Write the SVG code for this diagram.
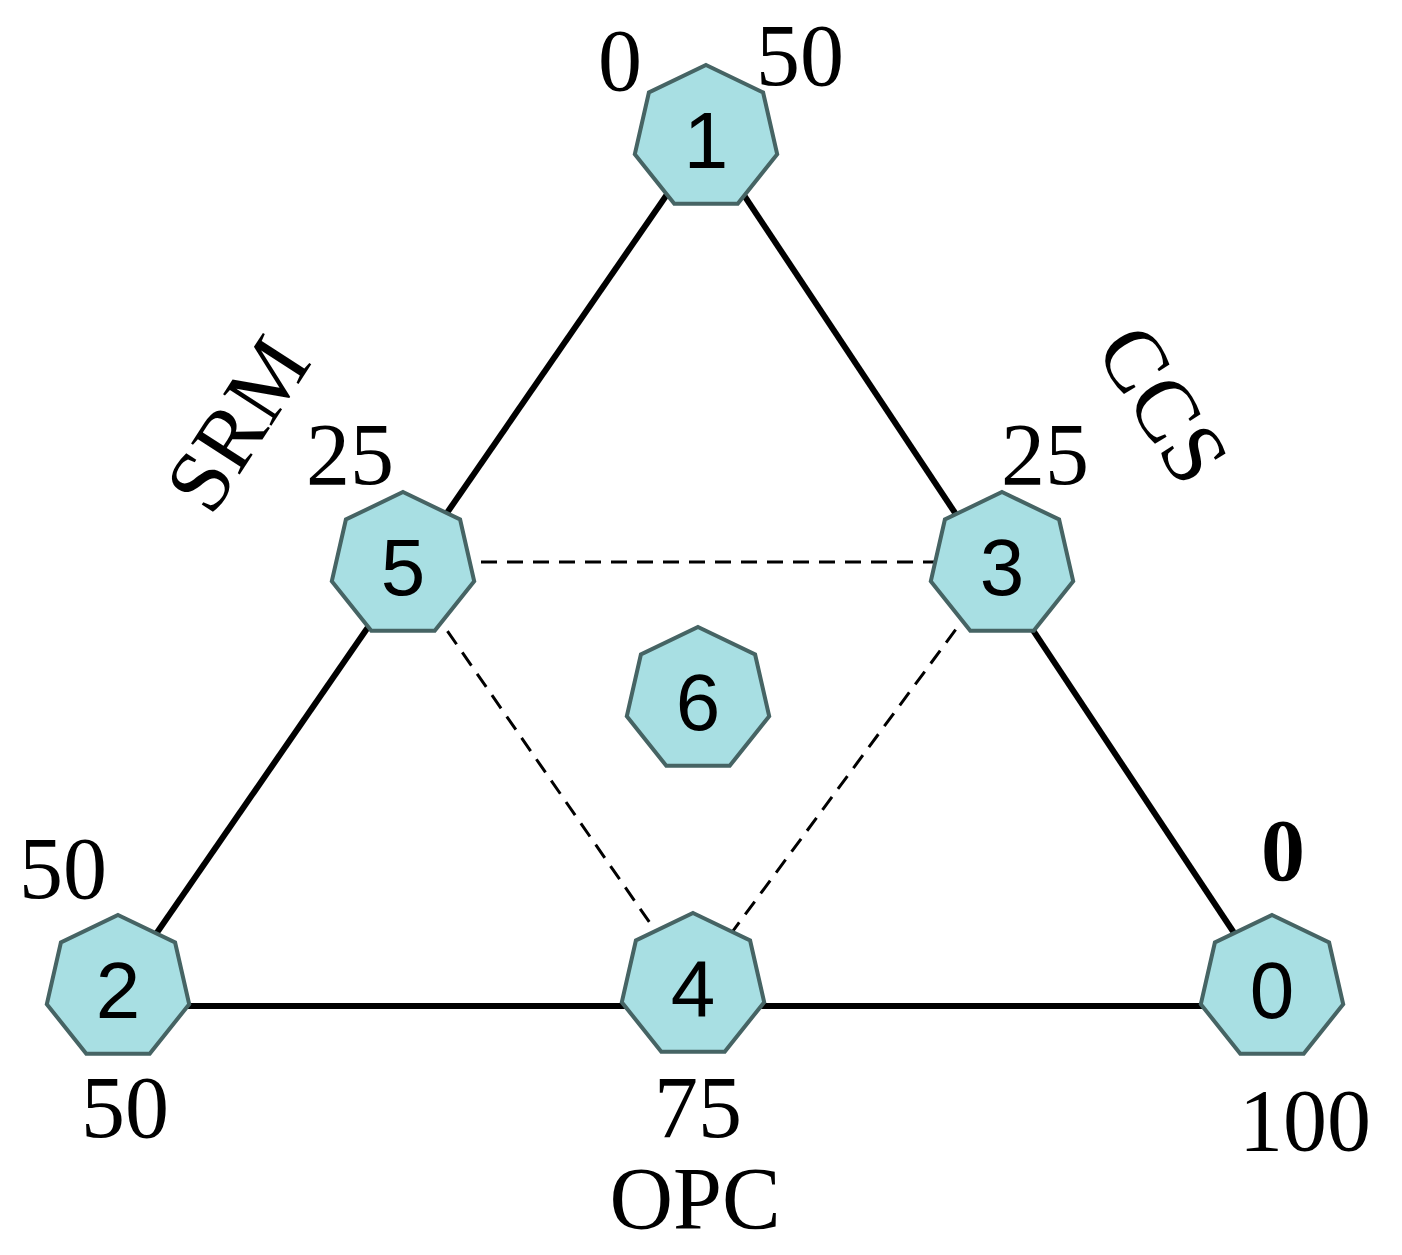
<svg xmlns="http://www.w3.org/2000/svg" width="1402" height="1255" viewBox="0 0 1402 1255">
<defs>
<style>
.n{fill:#a8dfe3;stroke:#466464;stroke-width:4}
.t{font-family:"Liberation Sans",Arial,sans-serif;font-size:80px;text-anchor:middle;fill:#000}
.l{font-family:"Liberation Serif","Times New Roman",serif;font-size:88px;text-anchor:middle;fill:#000}
.s{stroke:#000;stroke-width:6;fill:none}
.d{stroke:#000;stroke-width:3;stroke-dasharray:16 10;fill:none}
</style>
<polygon id="hep" points="0,-73 57.1,-45.5 71.2,16.2 31.7,65.8 -31.7,65.8 -71.2,16.2 -57.1,-45.5"/>
</defs>
<rect width="1402" height="1255" fill="#fff"/>
<g id="connectors">
<line class="s" x1="706" y1="138" x2="118" y2="989"/>
<line class="s" x1="706" y1="138" x2="1272" y2="990"/>
<line class="s" x1="118" y1="1006" x2="1272" y2="1006"/>
<line class="d" x1="403" y1="562" x2="1002" y2="562"/>
<line class="d" x1="403" y1="567" x2="693" y2="985"/>
<line class="d" x1="1002" y1="567" x2="693" y2="985"/>
</g>
<g id="node1"><use href="#hep" class="n" x="706" y="138"/><text class="t" x="706" y="168">1</text></g>
<g id="node5"><use href="#hep" class="n" x="403" y="565"/><text class="t" x="403" y="595">5</text></g>
<g id="node3"><use href="#hep" class="n" x="1002" y="565"/><text class="t" x="1002" y="595">3</text></g>
<g id="node6"><use href="#hep" class="n" x="698" y="700"/><text class="t" x="698" y="730">6</text></g>
<g id="node2"><use href="#hep" class="n" x="118" y="988"/><text class="t" x="118" y="1018">2</text></g>
<g id="node4"><use href="#hep" class="n" x="693" y="986"/><text class="t" x="693" y="1016">4</text></g>
<g id="node0"><use href="#hep" class="n" x="1272" y="988"/><text class="t" x="1272" y="1018">0</text></g>
<g id="labels">
<text class="l" x="620" y="90">0</text>
<text class="l" x="800" y="85">50</text>
<text class="l" x="350" y="484">25</text>
<text class="l" x="1045" y="484">25</text>
<text class="l" x="63" y="898">50</text>
<text class="l" x="1283" y="880" font-weight="bold">0</text>
<text class="l" x="125" y="1137">50</text>
<text class="l" x="698" y="1137">75</text>
<text class="l" x="1305" y="1150">100</text>
<text class="l" x="695" y="1228">OPC</text>
<text class="l" transform="translate(262,440) rotate(-57)">SRM</text>
<text class="l" transform="translate(1138,420) rotate(58)">CCS</text>
</g>
</svg>
